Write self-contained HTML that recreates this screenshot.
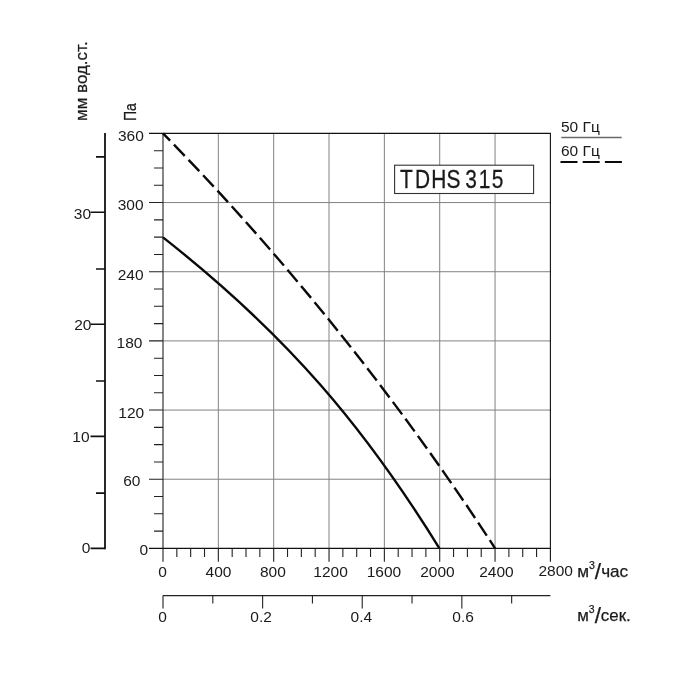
<!DOCTYPE html>
<html lang="ru"><head><meta charset="utf-8"><title>TDHS 315</title>
<style>html,body{margin:0;padding:0;background:#fff}svg{display:block}text{font-family:"Liberation Sans",sans-serif;fill:#1a1a1a}.t{font-size:15.5px}.u{font-size:17px}.u,.r{stroke:#1a1a1a;stroke-width:.25px}</style></head><body>
<svg width="700" height="700" viewBox="0 0 700 700">
<rect width="700" height="700" fill="#fff"/>
<path d="M218.34,133.40V548.40M273.69,133.40V548.40M329.03,133.40V548.40M384.37,133.40V548.40M439.71,133.40V548.40M495.06,133.40V548.40M163.00,202.57H550.40M163.00,271.73H550.40M163.00,340.90H550.40M163.00,410.07H550.40M163.00,479.23H550.40" stroke="#828282" stroke-width="1" fill="none"/>
<path d="M163.00,133.40V561.70" stroke="#444" stroke-width="1.3" fill="none"/>
<path d="M149.00,133.40H550.40V561.70M149.00,548.40H550.40" stroke="#111" stroke-width="1.1" fill="none"/>
<path d="M154.00,531.11H163.00M154.00,513.82H163.00M154.00,496.52H163.00M149.00,479.23H163.00M154.00,461.94H163.00M154.00,444.65H163.00M154.00,427.36H163.00M149.00,410.07H163.00M154.00,392.77H163.00M154.00,375.48H163.00M154.00,358.19H163.00M149.00,340.90H163.00M154.00,323.61H163.00M154.00,306.32H163.00M154.00,289.02H163.00M149.00,271.73H163.00M154.00,254.44H163.00M154.00,237.15H163.00M154.00,219.86H163.00M149.00,202.57H163.00M154.00,185.27H163.00M154.00,167.98H163.00M154.00,150.69H163.00M176.84,548.40V557.10M190.67,548.40V557.10M204.51,548.40V557.10M218.34,548.40V561.70M232.18,548.40V557.10M246.01,548.40V557.10M259.85,548.40V557.10M273.69,548.40V561.70M287.52,548.40V557.10M301.36,548.40V557.10M315.19,548.40V557.10M329.03,548.40V561.70M342.86,548.40V557.10M356.70,548.40V557.10M370.54,548.40V557.10M384.37,548.40V561.70M398.21,548.40V557.10M412.04,548.40V557.10M425.88,548.40V557.10M439.71,548.40V561.70M453.55,548.40V557.10M467.39,548.40V557.10M481.22,548.40V557.10M495.06,548.40V561.70M508.89,548.40V557.10M522.73,548.40V557.10M536.56,548.40V557.10" stroke="#222" stroke-width="1.1" fill="none"/>
<text class="t" x="130.95" y="140.90" text-anchor="middle">360</text>
<text class="t" x="130.60" y="210.20" text-anchor="middle">300</text>
<text class="t" x="130.60" y="279.50" text-anchor="middle">240</text>
<text class="t" x="129.50" y="348.20" text-anchor="middle">180</text>
<text class="t" x="131.30" y="418.30" text-anchor="middle">120</text>
<text class="t" x="131.80" y="485.50" text-anchor="middle">60</text>
<text class="t" x="143.90" y="554.80" text-anchor="middle">0</text>
<text class="t" x="162.60" y="576.70" text-anchor="middle">0</text>
<text class="t" x="218.50" y="576.70" text-anchor="middle">400</text>
<text class="t" x="272.90" y="576.50" text-anchor="middle">800</text>
<text class="t" x="330.60" y="576.50" text-anchor="middle">1200</text>
<text class="t" x="383.90" y="576.50" text-anchor="middle">1600</text>
<text class="t" x="437.40" y="576.50" text-anchor="middle">2000</text>
<text class="t" x="496.50" y="576.50" text-anchor="middle">2400</text>
<text class="t" x="555.70" y="576.30" text-anchor="middle">2800</text>
<text class="t" x="162.60" y="621.80" text-anchor="middle">0</text>
<text class="t" x="261.10" y="621.80" text-anchor="middle">0.2</text>
<text class="t" x="361.40" y="621.80" text-anchor="middle">0.4</text>
<text class="t" x="463.10" y="621.80" text-anchor="middle">0.6</text>
<text class="t" x="86.00" y="552.60" text-anchor="middle">0</text>
<text class="t" x="80.90" y="442.40" text-anchor="middle">10</text>
<text class="t" x="82.75" y="330.30" text-anchor="middle">20</text>
<text class="t" x="82.45" y="218.50" text-anchor="middle">30</text>
<path d="M105.0,133.00V549.20" stroke="#111" stroke-width="1.8" fill="none"/>
<path d="M90.5,548.40H105.0M96.0,493.10H105.0M90.5,436.40H105.0M96.0,381.00H105.0M90.5,324.30H105.0M96.0,269.00H105.0M90.5,212.30H105.0M96.0,156.85H105.0" stroke="#111" stroke-width="1.6" fill="none"/>
<text class="r" transform="translate(86.6,120.9) rotate(-90)" font-size="16.2" textLength="79.5" lengthAdjust="spacingAndGlyphs">мм вод.ст.</text>
<text class="r" transform="translate(136.4,121.1) rotate(-90)" font-size="17.2" textLength="17.9" lengthAdjust="spacingAndGlyphs">Па</text>
<path d="M163.00,595.6H550.40M163.00,595.6V608.40M212.81,595.6V603.50M262.62,595.6V608.40M312.43,595.6V603.50M362.23,595.6V608.40M412.04,595.6V603.50M461.85,595.6V608.40M511.66,595.6V603.50" stroke="#222" stroke-width="1.1" fill="none"/>
<text class="u" x="577.2" y="576.6" textLength="51" lengthAdjust="spacingAndGlyphs">м<tspan dy="-7.6" font-size="10.5">3</tspan><tspan dy="9.9" font-size="22.5">/</tspan><tspan dy="-2.3">час</tspan></text>
<text class="u" x="577.2" y="620.7" textLength="53.6" lengthAdjust="spacingAndGlyphs">м<tspan dy="-7.6" font-size="10.5">3</tspan><tspan dy="9.9" font-size="22.5">/</tspan><tspan dy="-2.3">сек.</tspan></text>
<path d="M163.0,237.4C288.83,336.19 365.77,429.2 439.4,548.3" stroke="#0a0a0a" stroke-width="2.4" fill="none"/>
<path d="M163.0,133.4C284.37,257.06 397.58,398.42 495.1,548.3" stroke="#0a0a0a" stroke-width="2.4" stroke-dasharray="15.6 5.52" stroke-dashoffset="5.4" fill="none"/>
<rect x="394.6" y="165.2" width="139" height="28.3" fill="#fff" stroke="#333" stroke-width="1.1"/>
<text transform="translate(0,187.6) scale(0.83,1)" font-size="25.2" x="481.83 500.11 519.57 537.87 553.13 560.42 576.86 592.35" y="0" stroke="#1a1a1a" stroke-width="0.3">TDHS 315</text>
<text class="t" x="561" y="131.6">50 Гц</text>
<path d="M561.3,137.6H621.7" stroke="#6a6a6a" stroke-width="1.5" fill="none"/>
<text class="t" x="561" y="156.1">60 Гц</text>
<path d="M560.5,162.1H622" stroke="#0a0a0a" stroke-width="2" stroke-dasharray="17 5.2" fill="none"/>
</svg></body></html>
